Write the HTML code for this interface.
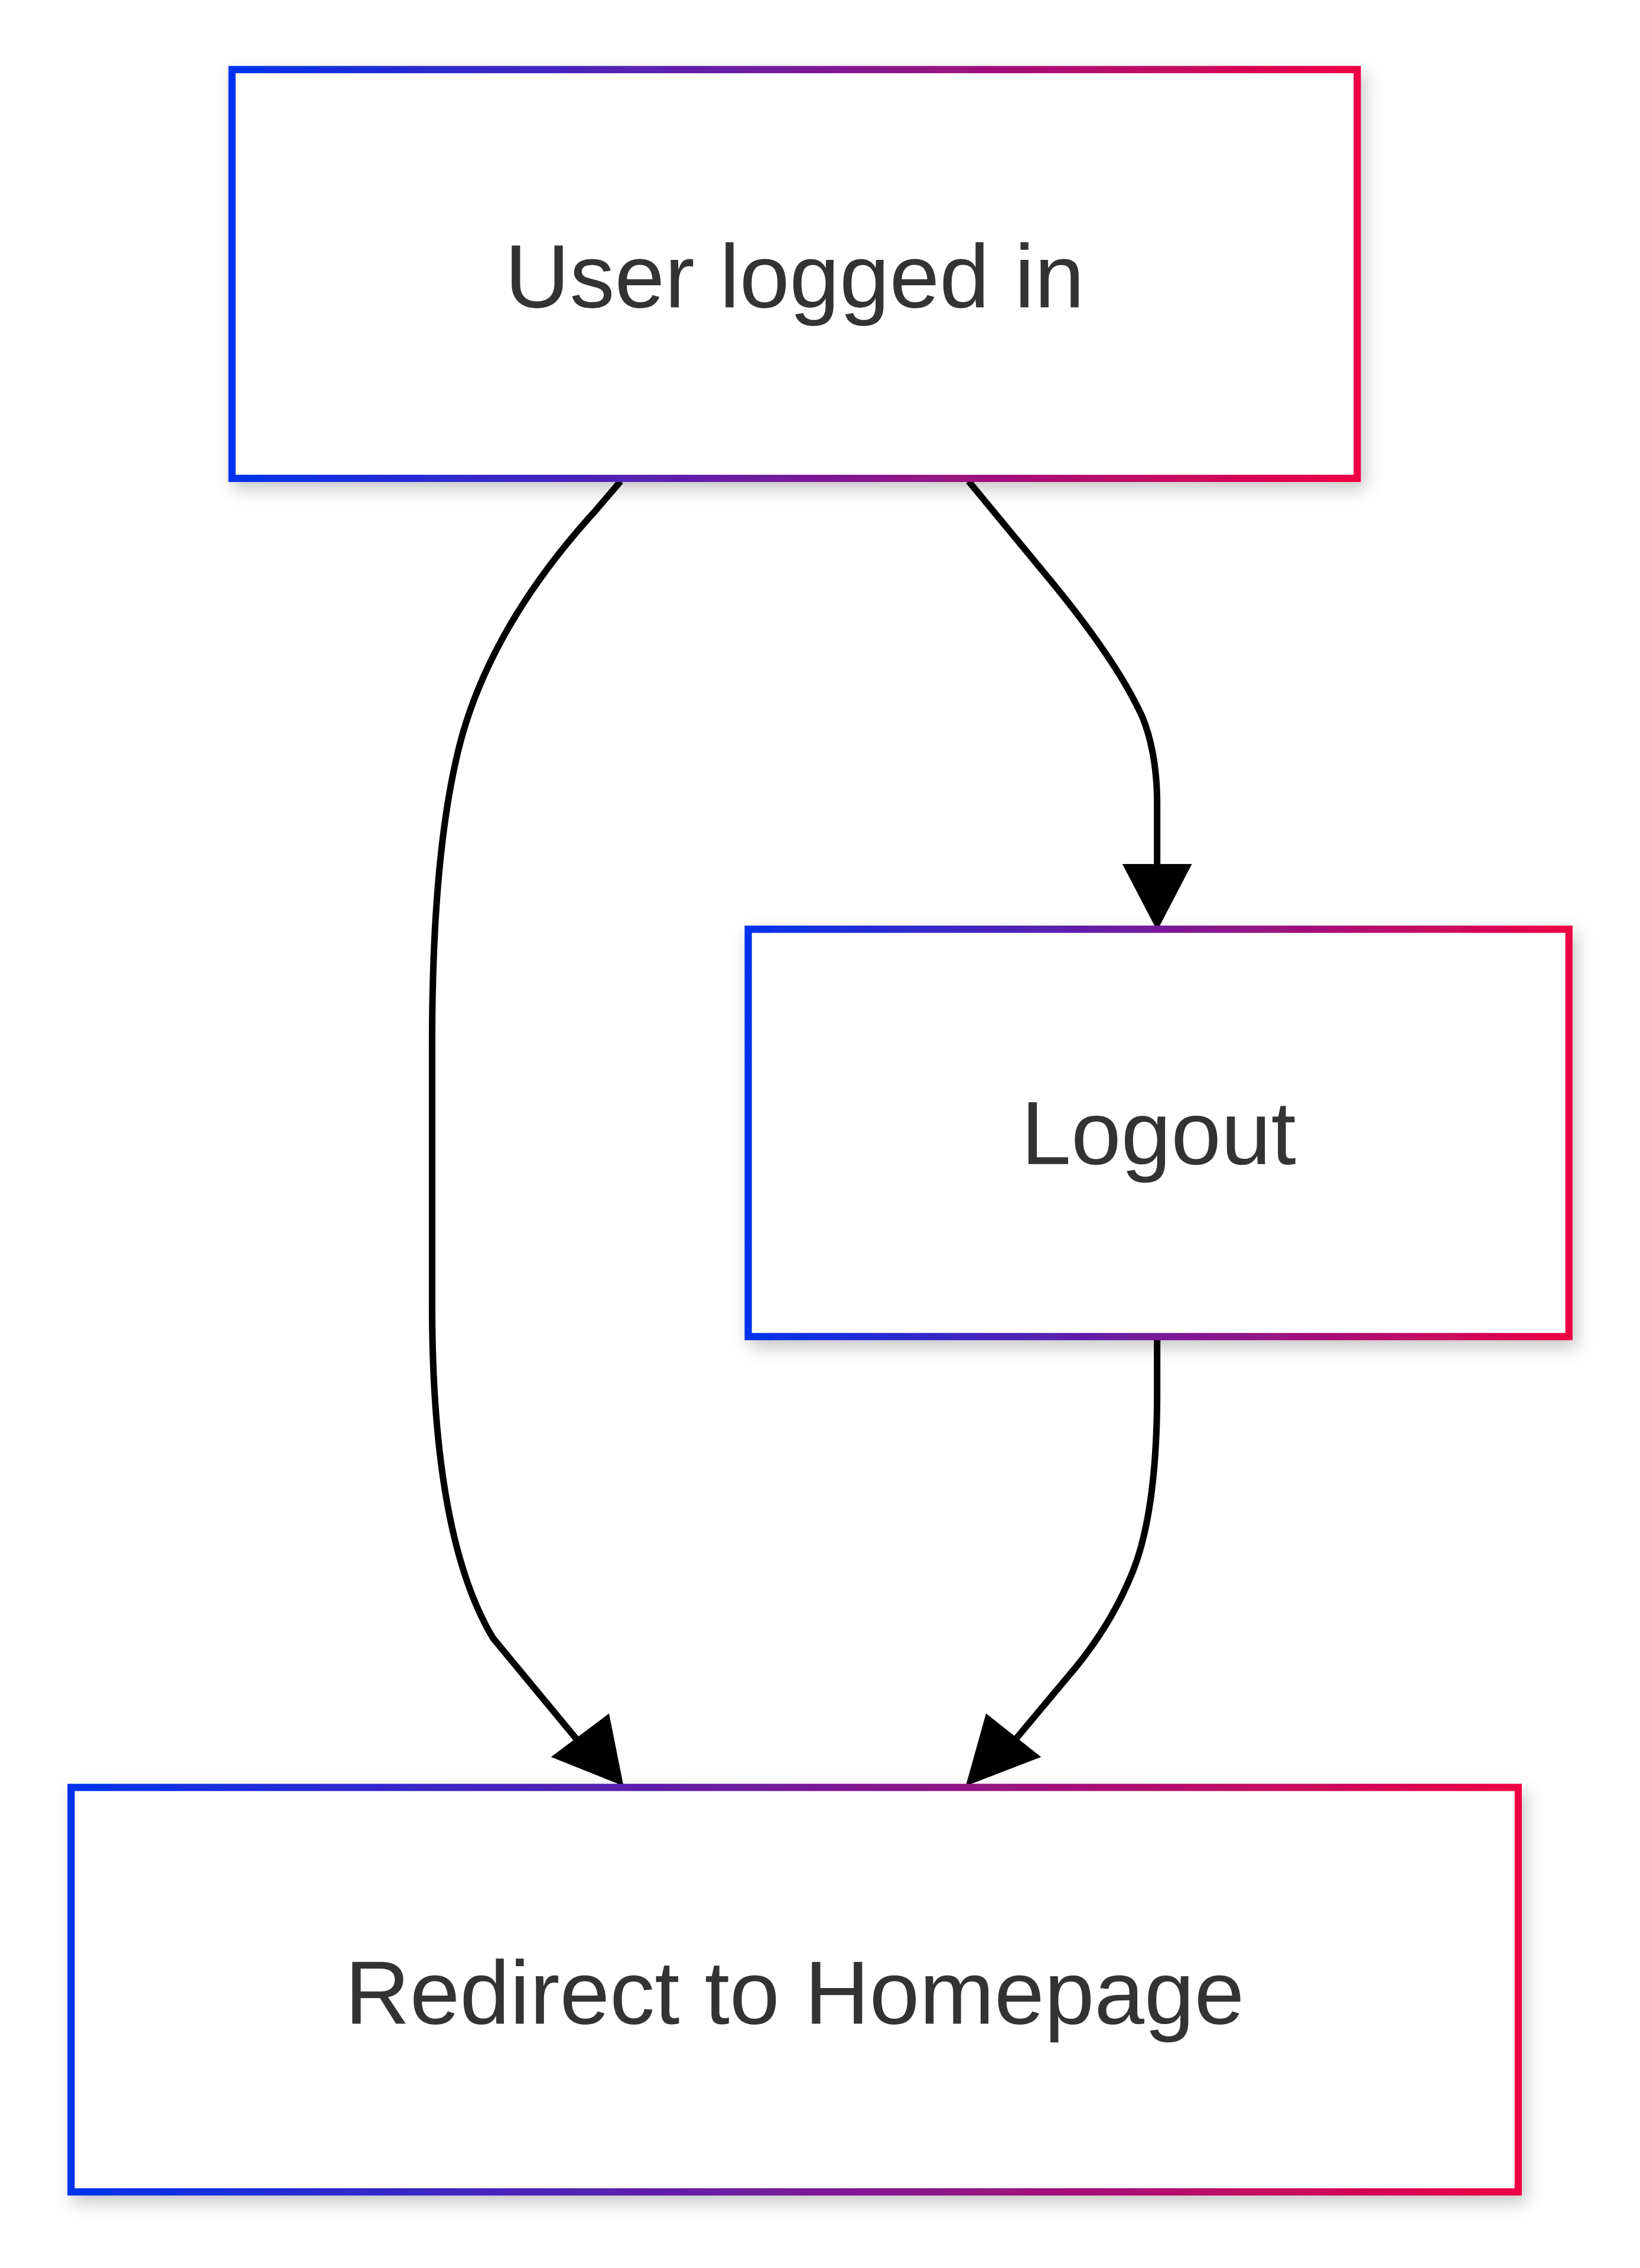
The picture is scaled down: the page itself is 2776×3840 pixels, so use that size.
<!DOCTYPE html>
<html>
<head>
<meta charset="utf-8">
<style>
html,body{margin:0;padding:0;background:#ffffff;}
svg{display:block;}
</style>
</head>
<body>
<svg width="2776" height="3840" viewBox="0 0 1131 1564.5" xmlns="http://www.w3.org/2000/svg">
<defs>
<linearGradient id="g1" gradientUnits="objectBoundingBox" x1="0" y1="0" x2="1" y2="0">
<stop offset="0" stop-color="#0033ee"/>
<stop offset="1" stop-color="#ee0044"/>
</linearGradient>
<filter id="sh" x="-10%" y="-10%" width="120%" height="130%">
<feDropShadow dx="3" dy="5" stdDeviation="6" flood-color="#000" flood-opacity="0.22"/>
</filter>
</defs>
<rect width="1131" height="1564.5" fill="#ffffff"/>

<!-- edges -->
<g fill="none" stroke="#000" stroke-width="4.5">
<path d="M428,332 L410,353 Q340,430 318,510 Q298,585 298,720 L298,900 Q298,1060 340,1130 L402,1205"/>
<path d="M668,332 L720,395 Q770,455 788,495 Q798,520 798,555 L798,598"/>
<path d="M798,924 L798,960 Q798,1040 782,1082 Q768,1118 742,1150 L696,1205"/>
</g>
<g fill="#000">
<polygon points="430,1232 380,1212 420,1182"/>
<polygon points="798,642 774,596 822,596"/>
<polygon points="666,1232 680,1182 718,1212"/>
</g>

<!-- nodes -->
<rect x="160" y="48" width="776" height="282" fill="#ffffff" stroke="url(#g1)" stroke-width="5" filter="url(#sh)"/>
<rect x="516" y="641" width="566" height="281" fill="#ffffff" stroke="url(#g1)" stroke-width="5" filter="url(#sh)"/>
<rect x="49" y="1233" width="998" height="279" fill="#ffffff" stroke="url(#g1)" stroke-width="5" filter="url(#sh)"/>

<g font-family="'Liberation Sans', Arial, sans-serif" font-size="62" fill="#333333" text-anchor="middle">
<text x="548" y="212">User logged in</text>
<text x="799" y="803">Logout</text>
<text x="548" y="1396">Redirect to Homepage</text>
</g>
</svg>
</body>
</html>
